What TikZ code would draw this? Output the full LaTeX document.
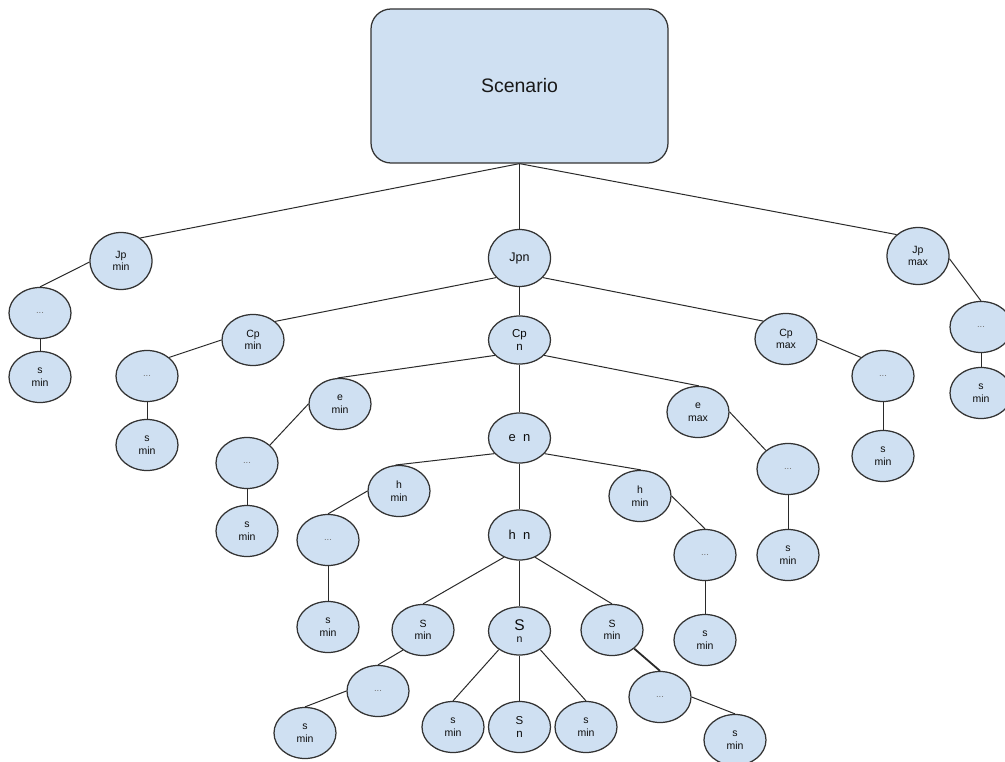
\documentclass[tikz,border=0pt]{standalone}
\usepackage{fontspec}
\setmainfont{Liberation Sans}
\usetikzlibrary{shapes.geometric}
\definecolor{nodefill}{HTML}{CFE0F2}
\definecolor{nodeline}{HTML}{333333}
\definecolor{edgecol}{HTML}{2A2A2A}
\tikzset{
  leaf/.style={ellipse, draw=nodeline, line width=1.25pt, fill=nodefill,
    minimum width=62pt, minimum height=51pt, inner sep=0pt, align=center,
    font=\fontsize{10.5}{12.5}\selectfont, text=black!95},
  bigleaf/.style={leaf, minimum height=57pt},
  dotleaf/.style={leaf, font=\fontsize{9.5}{11}\selectfont, text=black!55},
  edge/.style={draw=edgecol, line width=1pt},
}
\begin{document}
\begin{tikzpicture}[x=1pt,y=-1pt]
\useasboundingbox (0,0) rectangle (1005,762);

% root
\node[draw=nodeline, line width=1.25pt, fill=nodefill, rounded corners=20pt,
  minimum width=297pt, minimum height=154pt, font=\fontsize{19.5}{22}\selectfont,
  text=black!90] (scen) at (519.5,86) {Scenario};

% Jp level
\node[bigleaf] (jpmin) at (121,261) {Jp\\min};
\node[bigleaf, font=\fontsize{12.5}{14}\selectfont] (jpn) at (519.5,258) {Jpn};
\node[bigleaf] (jpmax) at (918,256) {Jp\\max};
\node[dotleaf] (d1) at (40,313) {...};
\node[leaf] (s1) at (40,377) {s\\min};
\node[dotleaf] (d4) at (981,327) {...};
\node[leaf] (s4) at (981,393) {s\\min};

% Cp level
\node[leaf] (cpmin) at (253,340) {Cp\\min};
\node[leaf, minimum height=48pt, font=\fontsize{11.5}{13.5}\selectfont] (cpn) at (519.5,340) {Cp\\n};
\node[leaf] (cpmax) at (786,339) {Cp\\max};
\node[dotleaf] (d2) at (147,376) {...};
\node[leaf] (s2) at (147,445) {s\\min};
\node[dotleaf] (d3) at (883,376) {...};
\node[leaf] (s3) at (883,456) {s\\min};

% e level
\node[leaf] (emin) at (340,404) {e\\min};
\node[leaf, minimum height=50pt, font=\fontsize{13}{15}\selectfont] (en) at (519.5,438) {e\ \ n};
\node[leaf] (emax) at (698,412) {e\\max};
\node[dotleaf] (d5) at (247,463) {...};
\node[leaf] (s5) at (247,531) {s\\min};
\node[dotleaf] (d6) at (788,469) {...};
\node[leaf] (s6) at (788,555) {s\\min};

% h level
\node[leaf] (hmin) at (399,491) {h\\min};
\node[leaf, minimum height=50pt, font=\fontsize{13}{15}\selectfont] (hn) at (519.5,535) {h\ \ n};
\node[leaf] (hmax) at (640,496) {h\\min};
\node[dotleaf] (d7) at (328,540) {...};
\node[leaf] (s7) at (328,627) {s\\min};
\node[dotleaf] (d8) at (705,555) {...};
\node[leaf] (s8) at (705,640) {s\\min};

% S level
\node[leaf] (Smin) at (423,630) {S\\min};
\node[leaf, minimum height=48pt] (Sn) at (519.5,631) {{\fontsize{15.5}{16}\selectfont S}\\n};
\node[leaf] (Smax) at (612,630) {S\\min};
\node[dotleaf] (d9) at (378,691) {...};
\node[leaf] (s9) at (305,733) {s\\min};
\node[leaf] (t1) at (453,727) {s\\min};
\node[leaf, font=\fontsize{11.5}{13.5}\selectfont] (t2) at (519.5,727) {S\\n};
\node[leaf] (t3) at (586,727) {s\\min};
\node[dotleaf] (d10) at (660,697) {...};
\node[leaf] (s10) at (735,740) {s\\min};

% connectors, border to border
\path[edge] (scen.south) -- (jpmin.50);
\path[edge] (scen.south) -- (jpn.north);
\path[edge] (scen.south) -- (jpmax.135);
\path[edge] (jpmin.182) -- (d1.north);
\path[edge] (d1.south) -- (s1.north);
\path[edge] (jpmax.355) -- (d4.north);
\path[edge] (d4.south) -- (s4.north);

\path[edge] (jpn.220) -- (cpmin.40);
\path[edge] (jpn.south) -- (cpn.north);
\path[edge] (jpn.320) -- (cpmax.142);
\path[edge] (cpmin.180) -- (d2.40);
\path[edge] (d2.south) -- (s2.north);
\path[edge] (cpmax.0) -- (d3.140);
\path[edge] (d3.south) -- (s3.north);

\path[edge] (cpn.212) -- (emin.95);
\path[edge] (cpn.south) -- (en.north);
\path[edge] (cpn.328) -- (emax.88);
\path[edge] (emin.180) -- (d5.38);
\path[edge] (d5.south) -- (s5.north);
\path[edge] (emax.0) -- (d6.140);
\path[edge] (d6.south) -- (s6.north);

\path[edge] (en.212) -- (hmin.98);
\path[edge] (en.south) -- (hn.north);
\path[edge] (en.328) -- (hmax.88);
\path[edge] (hmin.180) -- (d7.north);
\path[edge] (d7.south) -- (s7.north);
\path[edge] (hmax.0) -- (d8.north);
\path[edge] (d8.south) -- (s8.north);

\path[edge] (hn.235) -- (Smin.north);
\path[edge] (hn.south) -- (Sn.north);
\path[edge] (hn.305) -- (Smax.north);
\path[edge] (Smin.225) -- (d9.north);
\path[edge] (d9.180) -- (s9.north);
\path[edge] (Sn.222) -- (t1.north);
\path[edge] (Sn.south) -- (t2.north);
\path[edge] (Sn.318) -- (t3.north);
\path[edge, line width=1.8pt] (Smax.320) -- (d10.north);
\path[edge] (d10.0) -- (s10.north);
\end{tikzpicture}
\end{document}
